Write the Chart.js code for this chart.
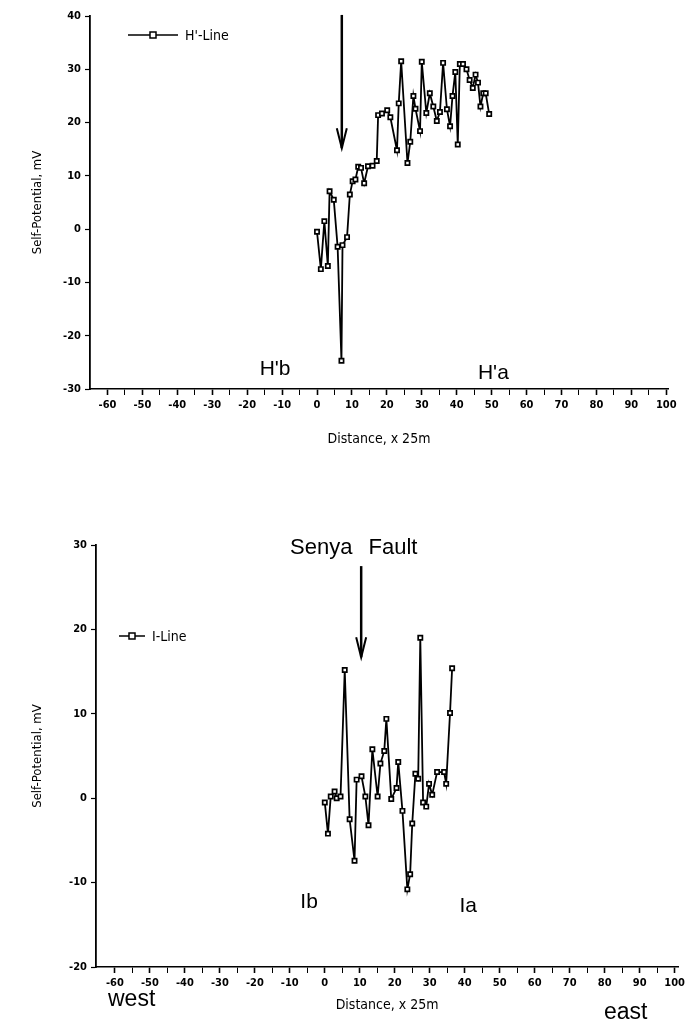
<!DOCTYPE html>
<html>
<head>
<meta charset="utf-8">
<script src="https://cdn.jsdelivr.net/npm/chart.js@4/dist/chart.umd.min.js"></script>
<style>
  body { margin: 0; background: #fff; width: 689px; height: 1028px; position: relative; overflow: hidden; }
  #wrapTop { position: absolute; left: 0; top: 0; width: 689px; height: 470px; }
  #wrapBot { position: absolute; left: 0; top: 500px; width: 689px; height: 528px; }
  .note { position: absolute; font-family: "Liberation Sans", Arial, sans-serif; font-size: 21px; color: #000; white-space: nowrap; }
</style>
</head>
<body>
<div id="wrapTop"><canvas id="chartTop"></canvas></div>
<div id="wrapBot"><canvas id="chartBot"></canvas></div>
<div class="note" style="left:290px;top:534px;font-size:22px;word-spacing:10px;">Senya Fault</div>
<div class="note" style="left:108px;top:985px;font-size:23px;">west</div>
<div class="note" style="left:604px;top:998px;font-size:23px;">east</div>
<script>
// H'-Line (top profile)
var hDist = [0, 1.1, 2.1, 3.1, 3.6, 4.8, 5.9, 7.0, 7.3, 8.6, 9.4, 10.2, 11.0, 11.8, 12.6, 13.5, 14.6, 15.9, 17.1, 17.5,
             18.6, 20.1, 21.0, 22.9, 23.4, 24.1, 25.9, 26.7, 27.6, 28.2, 29.5, 30.0, 31.3, 32.3, 33.3, 34.3, 35.2, 36.1,
             37.2, 38.1, 38.8, 39.6, 40.3, 40.9, 41.8, 42.8, 43.7, 44.6, 45.4, 46.1, 46.8, 47.6, 48.3, 49.3];
var hSP   = [-0.5, -7.5, 1.5, -6.9, 7.1, 5.5, -3.3, -24.7, -3.0, -1.5, 6.5, 9.0, 9.3, 11.7, 11.5, 8.6, 11.8, 11.9, 12.8, 21.4,
             21.7, 22.3, 21.0, 14.8, 23.6, 31.5, 12.4, 16.4, 25.0, 22.6, 18.4, 31.4, 21.8, 25.5, 23.0, 20.3, 22.0, 31.2,
             22.5, 19.3, 25.0, 29.5, 15.9, 31.0, 31.0, 30.0, 28.0, 26.5, 29.0, 27.5, 23.0, 25.5, 25.5, 21.6];

// I-Line (bottom profile)
var iDist = [0, 0.9, 1.7, 2.8, 3.4, 4.5, 5.7, 7.1, 8.5, 9.1, 10.5, 11.6, 12.5, 13.6, 15.1, 15.9, 17.0, 17.6, 19.0,
             20.5, 21.0, 22.2, 23.6, 24.4, 25.0, 25.9, 26.7, 27.3, 28.1, 29.0, 29.8, 30.7, 32.1, 34.1, 34.7, 35.8, 36.4];
var iSP   = [-0.5, -4.2, 0.2, 0.8, 0.0, 0.2, 15.2, -2.5, -7.4, 2.2, 2.6, 0.2, -3.2, 5.8, 0.2, 4.1, 5.6, 9.4, -0.1,
             1.2, 4.3, -1.5, -10.8, -9.0, -3.0, 2.9, 2.3, 19.0, -0.5, -1.0, 1.7, 0.4, 3.1, 3.1, 1.7, 10.1, 15.4];

var xTicks = [-60, -50, -40, -30, -20, -10, 0, 10, 20, 30, 40, 50, 60, 70, 80, 90, 100];
var yTicksH = [-30, -20, -10, 0, 10, 20, 30, 40];
var yTicksI = [-20, -10, 0, 10, 20, 30];

var tickFont = { family: '"Liberation Sans Narrow", "DejaVu Sans Condensed", sans-serif', size: 11, weight: 'bold' };
var titleFont = { family: '"Liberation Sans Narrow", "DejaVu Sans Condensed", sans-serif', size: 14 };

function pairs(xs, ys) {
  return xs.map(function(x, i) { return { x: x, y: ys[i] }; });
}

// arrow, region labels and the little legend, placed in data coordinates
var overlay = {
  id: 'overlay',
  afterDatasetsDraw: function(chart, args, opts) {
    var ctx = chart.ctx;
    var xs = chart.scales.x, ys = chart.scales.y;
    ctx.save();
    ctx.strokeStyle = '#000';
    ctx.fillStyle = '#000';

    var ax = xs.getPixelForValue(opts.arrow.x);
    var a1 = ys.getPixelForValue(opts.arrow.from);
    var a2 = ys.getPixelForValue(opts.arrow.to);
    ctx.lineWidth = 2.5;
    ctx.beginPath(); ctx.moveTo(ax, a1); ctx.lineTo(ax, a2); ctx.stroke();
    ctx.lineWidth = 2;
    ctx.beginPath(); ctx.moveTo(ax - 5, a2 - 20); ctx.lineTo(ax, a2); ctx.lineTo(ax + 5, a2 - 20); ctx.stroke();

    ctx.font = '21px "Liberation Sans", Arial, sans-serif';
    ctx.textAlign = 'center';
    ctx.textBaseline = 'middle';
    opts.labels.forEach(function(l) {
      ctx.fillText(l.text, xs.getPixelForValue(l.x), ys.getPixelForValue(l.y));
    });

    var lg = opts.legend;
    ctx.lineWidth = 1.5;
    ctx.beginPath(); ctx.moveTo(lg.x, lg.y); ctx.lineTo(lg.x + lg.len, lg.y); ctx.stroke();
    var mx = lg.x + lg.len / 2;
    ctx.fillStyle = '#fff';
    ctx.fillRect(mx - 3, lg.y - 3, 6, 6);
    ctx.strokeRect(mx - 3, lg.y - 3, 6, 6);
    ctx.fillStyle = '#000';
    ctx.font = '14px "Liberation Sans Narrow", "DejaVu Sans Condensed", sans-serif';
    ctx.textAlign = 'left';
    ctx.fillText(lg.text, lg.x + lg.len + 7, lg.y + 1);
    ctx.restore();
  }
};

function makeChart(id, cfg) {
  return new Chart(document.getElementById(id), {
    type: 'scatter',
    data: {
      datasets: [{
        data: pairs(cfg.xs, cfg.ys),
        showLine: true,
        borderColor: '#000',
        borderWidth: 1.8,
        pointStyle: 'rect',
        pointRadius: 3,
        pointBorderWidth: 1.7,
        pointBackgroundColor: '#fff',
        pointBorderColor: '#000',
        tension: 0
      }]
    },
    options: {
      responsive: true,
      maintainAspectRatio: false,
      animation: false,
      layout: { padding: cfg.padding },
      plugins: {
        legend: { display: false },
        tooltip: { enabled: false },
        overlay: cfg.overlay
      },
      scales: {
        x: {
          type: 'linear',
          min: cfg.xMin,
          max: cfg.xMax,
          afterBuildTicks: function(scale) {
            var t = [];
            xTicks.forEach(function(v) {
              t.push({ value: v });
              if (v + 5 <= 100) t.push({ value: v + 5 });
            });
            scale.ticks = t;
          },
          afterFit: function(scale) { scale.height = cfg.xHeight; },
          ticks: {
            color: '#000',
            font: tickFont,
            padding: 4,
            maxRotation: 0,
            autoSkip: false,
            callback: function(v) { return v % 10 === 0 ? String(v) : ''; }
          },
          grid: {
            drawOnChartArea: false,
            drawTicks: true,
            tickLength: 6,
            tickColor: '#000',
            tickWidth: function(c) { return c.tick && c.tick.value % 10 === 0 ? 1.6 : 1; }
          },
          border: { display: true, color: '#000', width: 1.6 },
          title: { display: true, text: 'Distance, x 25m', color: '#000', font: titleFont, padding: { top: 0, bottom: cfg.xTitlePad } }
        },
        y: {
          type: 'linear',
          min: cfg.yTicks[0],
          max: cfg.yTicks[cfg.yTicks.length - 1],
          afterBuildTicks: function(scale) {
            scale.ticks = cfg.yTicks.map(function(v) { return { value: v }; });
          },
          afterFit: function(scale) { scale.width = cfg.yWidth; },
          ticks: { color: '#000', font: tickFont, padding: 4 },
          grid: { drawOnChartArea: false, drawTicks: true, tickLength: 5, tickColor: '#000', tickWidth: 1.2 },
          border: { display: true, color: '#000', width: 1.8 },
          title: { display: true, text: 'Self-Potential, mV', color: '#000', font: { family: titleFont.family, size: 13 }, padding: { top: 30, bottom: 0 } }
        }
      }
    },
    plugins: [overlay]
  });
}

makeChart('chartTop', {
  xs: hDist, ys: hSP, yTicks: yTicksH,
  xMin: -65, xMax: 100.5,
  yWidth: 90, xHeight: 81, xTitlePad: 22,
  padding: { top: 16, right: 21, left: 0, bottom: 0 },
  overlay: {
    arrow: { x: 7.1, from: 40.2, to: 15.2 },
    labels: [{ text: "H'b", x: -12, y: -26.3 }, { text: "H'a", x: 50.5, y: -27 }],
    legend: { x: 128, y: 35, len: 50, text: "H'-Line" }
  }
});

makeChart('chartBot', {
  xs: iDist, ys: iSP, yTicks: yTicksI,
  xMin: -65.4, xMax: 101,
  yWidth: 96, xHeight: 61, xTitlePad: 14,
  padding: { top: 45, right: 8, left: 0, bottom: 0 },
  overlay: {
    arrow: { x: 10.4, from: 27.5, to: 16.7 },
    labels: [{ text: 'Ib', x: -4.5, y: -12.3 }, { text: 'Ia', x: 41, y: -12.8 }],
    legend: { x: 119, y: 136, len: 26, text: 'I-Line' }
  }
});
</script>
</body>
</html>
